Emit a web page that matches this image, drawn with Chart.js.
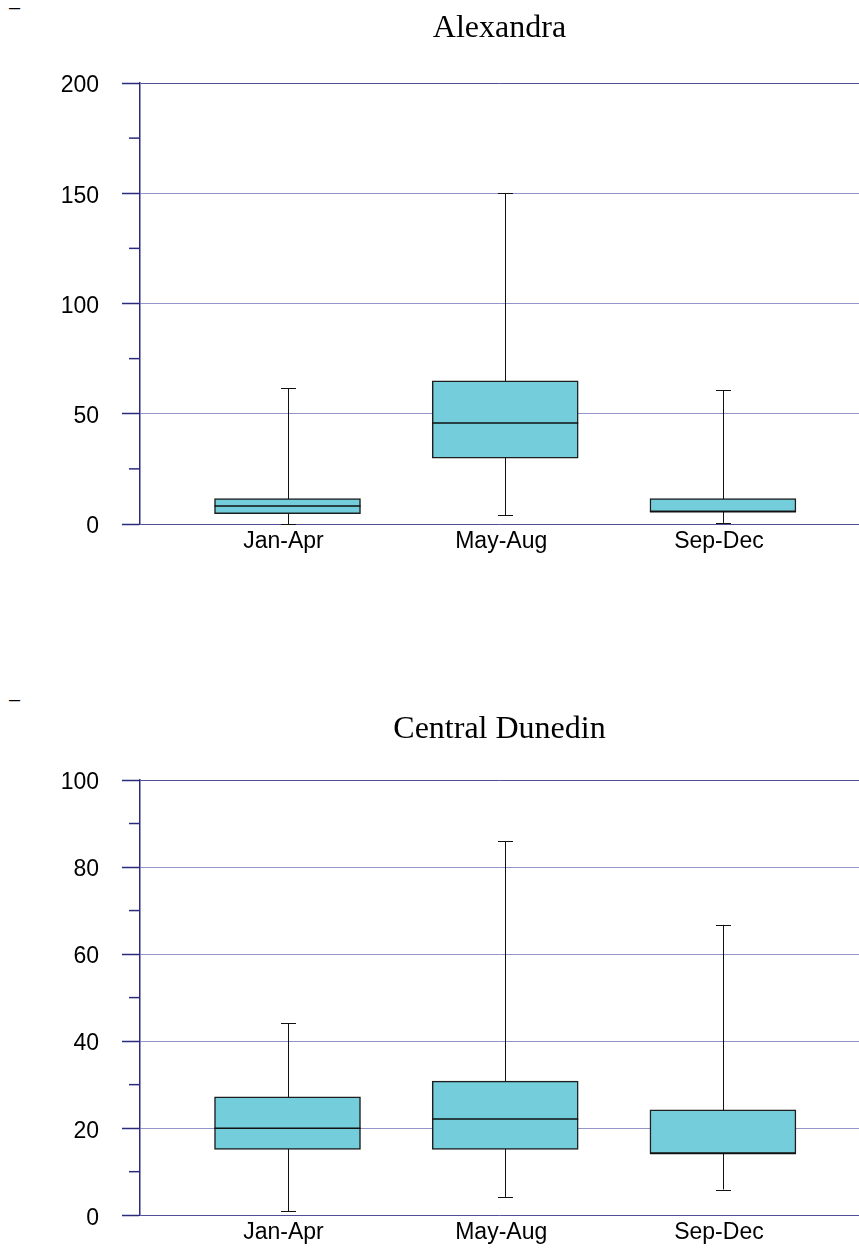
<!DOCTYPE html>
<html>
<head>
<meta charset="utf-8">
<title>Box plots</title>
<script src="https://cdn.jsdelivr.net/npm/chart.js@4.4.1/dist/chart.umd.min.js"></script>
<style>
    html, body { margin: 0; padding: 0; background: #fff; overflow: hidden; }
    body { position: relative; width: 859px; height: 1252px; }
    canvas { position: absolute; left: 0; }
    #alexandraChart { top: 0; }
    #dunedinChart { top: 640px; }
    .mark { position: absolute; left: 9px; font: 20px 'Liberation Sans', Arial, sans-serif; line-height: 1; color: #000; }
</style>
</head>
<body>
<span class="mark" style="top: -3px;">–</span>
<span class="mark" style="top: 689px;">–</span>
<canvas id="alexandraChart" width="859" height="620"></canvas>
<canvas id="dunedinChart" width="859" height="612"></canvas>
<script>
// categories on the x axis
var categories = ['Jan-Apr', 'May-Aug', 'Sep-Dec'];

// Alexandra
var alexandraLow = [0, 3.9, 0.5];
var alexandraQ1 = [4.7, 29.9, 5.6];
var alexandraMedian = [8.2, 45.8, 5.6];
var alexandraQ3 = [11.5, 64.9, 11.5];
var alexandraHigh = [61.5, 150, 60.6];
var alexandraTicks = [0, 50, 100, 150, 200];

// Central Dunedin
var dunedinLow = [0.9, 4.2, 5.9];
var dunedinQ1 = [15.1, 15.1, 14.2];
var dunedinMedian = [20, 22.1, 14.2];
var dunedinQ3 = [27.2, 30.8, 24.2];
var dunedinHigh = [44.1, 85.9, 66.7];
var dunedinTicks = [0, 20, 40, 60, 80, 100];

var boxCharts = {
    navy: '#2b2b7d',
    edge: '#50509a',
    gridColor: '#9494c8',
    boxColor: '#73cdda',
    labelFont: "'Liberation Sans', Arial, sans-serif",
    titleFont: "'Liberation Serif', 'Times New Roman', serif",

    // whiskers, medians and the short minor ticks, placed with the chart's scales
    boxPlotPlugin: function (stats, minorStep, majorStep) {
        return {
            id: 'boxPlot',
            beforeDatasetsDraw: function (chart) {
                var ctx = chart.ctx;
                var xScale = chart.scales.x;
                var yScale = chart.scales.y;

                ctx.save();
                ctx.strokeStyle = '#111';
                ctx.lineWidth = 1;
                stats.low.forEach(function (low, i) {
                    var px = Math.round(xScale.getPixelForValue(i + 1)) + 0.5;
                    var yLow = yScale.getPixelForValue(low);
                    var yHigh = yScale.getPixelForValue(stats.high[i]);

                    ctx.beginPath();
                    ctx.moveTo(px, yLow);
                    ctx.lineTo(px, yHigh);
                    ctx.moveTo(px - 7.5, Math.round(yLow) + 0.5);
                    ctx.lineTo(px + 7.5, Math.round(yLow) + 0.5);
                    ctx.moveTo(px - 7.5, Math.round(yHigh) + 0.5);
                    ctx.lineTo(px + 7.5, Math.round(yHigh) + 0.5);
                    ctx.stroke();
                });
                ctx.restore();
            },
            afterDatasetsDraw: function (chart) {
                var ctx = chart.ctx;
                var yScale = chart.scales.y;
                var bars = chart.getDatasetMeta(0).data;

                ctx.save();
                ctx.strokeStyle = '#111';
                ctx.lineWidth = 1.5;
                stats.median.forEach(function (median, i) {
                    var bar = bars[i].getProps(['x', 'width'], true);
                    var py = yScale.getPixelForValue(median);

                    ctx.beginPath();
                    ctx.moveTo(bar.x - bar.width / 2, py);
                    ctx.lineTo(bar.x + bar.width / 2, py);
                    ctx.stroke();
                });
                ctx.restore();
            },
            afterDraw: function (chart) {
                var ctx = chart.ctx;
                var yScale = chart.scales.y;

                ctx.save();
                ctx.strokeStyle = boxCharts.navy;
                ctx.lineWidth = 1.5;
                for (var v = minorStep; v < yScale.max; v += majorStep) {
                    var py = yScale.getPixelForValue(v);
                    ctx.beginPath();
                    ctx.moveTo(yScale.right - 11, py);
                    ctx.lineTo(yScale.right, py);
                    ctx.stroke();
                }
                ctx.restore();
            }
        };
    },

    chartOptions: function (title, yTicks, titleTop, titleBottom, xAxisHeight) {
        var self = this;
        var yMax = yTicks[yTicks.length - 1];
        var majorStep = yTicks[1] - yTicks[0];

        return {
            responsive: false,
            animation: false,
            layout: {
                padding: 0
            },
            scales: {
                x: {
                    type: 'linear',
                    offset: false,
                    min: 0.3225,
                    max: 3.625,
                    grid: {
                        display: false,
                        drawTicks: false
                    },
                    border: {
                        display: false
                    },
                    ticks: {
                        stepSize: 1,
                        autoSkip: false,
                        maxRotation: 0,
                        padding: 4,
                        labelOffset: -4,
                        color: '#000',
                        font: { family: self.labelFont, size: 23 },
                        callback: function (value) {
                            return Number.isInteger(value) ? categories[value - 1] : '';
                        }
                    },
                    afterFit: function (scale) {
                        scale.height = xAxisHeight;
                        scale.paddingLeft = 0;
                        scale.paddingRight = 0;
                    }
                },
                y: {
                    min: 0,
                    max: yMax,
                    grid: {
                        lineWidth: 1,
                        tickLength: 18,
                        color: function (ctx) {
                            var v = ctx.tick.value;
                            if (v % majorStep !== 0) {
                                return 'rgba(0,0,0,0)';
                            }
                            return (v === 0 || v === yMax) ? self.edge : self.gridColor;
                        },
                        tickColor: function (ctx) {
                            return ctx.tick.value % majorStep === 0 ? self.navy : 'rgba(0,0,0,0)';
                        },
                        tickWidth: 1.5
                    },
                    border: {
                        color: self.navy,
                        width: 1.5
                    },
                    ticks: {
                        stepSize: majorStep / 2,
                        autoSkip: false,
                        padding: 23,
                        labelOffset: 3,
                        color: '#000',
                        font: { family: self.labelFont, size: 23 },
                        callback: function (value) {
                            return yTicks.indexOf(value) >= 0 ? value : '';
                        }
                    },
                    afterFit: function (scale) {
                        scale.width = 140;
                    }
                }
            },
            plugins: {
                legend: {
                    display: false
                },
                tooltip: {
                    enabled: false
                },
                title: {
                    display: true,
                    text: title,
                    fullSize: false,
                    color: '#000',
                    font: { family: self.titleFont, size: 32, weight: 'normal', lineHeight: 1.2 },
                    padding: { top: titleTop, bottom: titleBottom }
                }
            }
        };
    },

    initChart: function (canvasId, title, low, q1, median, q3, high, yTicks, titleTop, titleBottom, xAxisHeight) {
        var majorStep = yTicks[1] - yTicks[0];
        var boxes = categories.map(function (name, i) {
            return { x: i + 1, y: [q1[i], q3[i]] };
        });

        new Chart(document.getElementById(canvasId), {
            type: 'bar',
            data: {
                datasets: [{
                    data: boxes,
                    backgroundColor: this.boxColor,
                    borderColor: '#1e1e1e',
                    borderWidth: 1.5,
                    borderSkipped: false,
                    barThickness: 146
                }]
            },
            options: this.chartOptions(title, yTicks, titleTop, titleBottom, xAxisHeight),
            plugins: [this.boxPlotPlugin({ low: low, median: median, high: high }, majorStep / 2, majorStep)]
        });
    },

    init: function () {
        this.initChart('alexandraChart', 'Alexandra', alexandraLow, alexandraQ1, alexandraMedian,
            alexandraQ3, alexandraHigh, alexandraTicks, 9.8, 34.8, 96);
        this.initChart('dunedinChart', 'Central Dunedin', dunedinLow, dunedinQ1, dunedinMedian,
            dunedinQ3, dunedinHigh, dunedinTicks, 70.8, 30.8, 29);
    }
};

boxCharts.init();
</script>
</body>
</html>
